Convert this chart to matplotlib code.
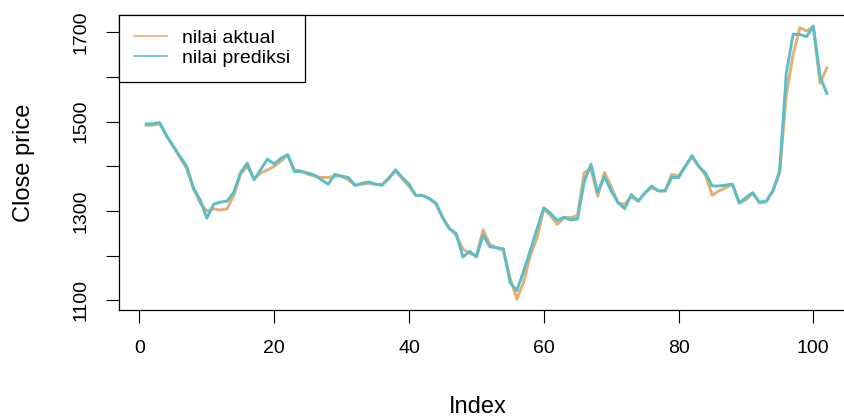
import matplotlib
matplotlib.use("Agg")
import matplotlib.pyplot as plt

plt.rcParams['font.family'] = ['Liberation Sans', 'DejaVu Sans']
fs_tick, fs_lab, fs_leg = 14, 17, 14

index = list(range(1, 103))
aktual = [1492, 1492, 1495, 1470, 1445, 1420, 1395, 1350, 1318, 1300,
          1305, 1302, 1305, 1335, 1382, 1400, 1372, 1385, 1392, 1400,
          1412, 1425, 1392, 1390, 1382, 1378, 1375, 1375, 1378, 1378,
          1370, 1358, 1360, 1362, 1360, 1358, 1375, 1390, 1372, 1355,
          1335, 1335, 1328, 1315, 1285, 1262, 1245, 1215, 1205, 1200,
          1258, 1225, 1218, 1212, 1150, 1103, 1140, 1200, 1240, 1305,
          1290, 1270, 1285, 1285, 1290, 1386, 1395, 1333, 1386, 1355,
          1318, 1315, 1332, 1322, 1340, 1352, 1345, 1345, 1382, 1378,
          1400, 1420, 1400, 1380, 1335, 1345, 1352, 1360, 1318, 1325,
          1340, 1318, 1320, 1345, 1385, 1560, 1650, 1710, 1703, 1712,
          1586, 1620]
prediksi = [1495, 1495, 1498, 1468, 1445, 1422, 1400, 1352, 1325, 1284,
            1315, 1320, 1322, 1342, 1386, 1407, 1370, 1393, 1416, 1405,
            1418, 1426, 1388, 1388, 1385, 1380, 1370, 1360, 1382, 1378,
            1375, 1357, 1362, 1365, 1360, 1358, 1372, 1392, 1375, 1360,
            1335, 1335, 1328, 1318, 1285, 1260, 1250, 1197, 1210, 1197,
            1246, 1220, 1218, 1215, 1140, 1122, 1165, 1212, 1260, 1307,
            1295, 1279, 1286, 1280, 1282, 1365, 1405, 1341, 1377, 1345,
            1320, 1305, 1337, 1322, 1340, 1356, 1345, 1345, 1375, 1375,
            1400, 1424, 1400, 1385, 1356, 1356, 1358, 1360, 1318, 1330,
            1341, 1320, 1322, 1345, 1390, 1609, 1695, 1695, 1690, 1714,
            1601, 1563]
labels = ["nilai aktual", "nilai prediksi"]
xticks = [0, 20, 40, 60, 80, 100]
yticks = [1100, 1300, 1500, 1700]
yminor = [1200, 1400, 1600]

col_akt = "#E5AE74"
col_pred = "#5ABEC9"

W, H = 844, 418
fig = plt.figure(figsize=(W / 100, H / 100), dpi=100)
L, R, T, B = 119, 854, 15, 310
ax = fig.add_axes([L / W, 1 - B / H, (R - L) / W, (B - T) / H])

ax.plot(index, aktual, color=col_akt, lw=2.1, label=labels[0])
ax.plot(index, prediksi, color=col_pred, lw=2.1, label=labels[1])

rx = (max(index) - min(index)) * 0.04
allv = aktual + prediksi
ry = (max(allv) - min(allv)) * 0.04
ax.set_xlim(min(index) - rx, max(index) + rx)
ax.set_ylim(min(allv) - ry, max(allv) + ry)

ax.set_xticks(xticks)
ax.set_yticks(yticks)
ax.set_yticks(yminor, minor=True)
ax.tick_params(axis='both', which='both', direction='out', length=9.4, width=0.8,
               colors='black', labelsize=fs_tick)
ax.tick_params(axis='y', which='major', pad=12)
ax.tick_params(axis='x', which='major', pad=12)
for lab in ax.get_yticklabels():
    lab.set_rotation(90)
    lab.set_va('center')
for s in ax.spines.values():
    s.set_linewidth(0.9)
    s.set_color('black')

ax.set_xlabel("Index", fontsize=fs_lab, va='center')
ax.set_ylabel("Close price", fontsize=fs_lab, va='center')
ax.xaxis.set_label_coords((478 - L) / (R - L), -(407 - B) / (B - T))
ax.yaxis.set_label_coords(-(L - 24) / (R - L), 0.5)

leg = ax.legend(loc='upper left', bbox_to_anchor=(0, 1), borderaxespad=0,
                fontsize=fs_leg, frameon=True, fancybox=False, framealpha=1,
                edgecolor='black', handlelength=1.7, handletextpad=0.8,
                borderpad=0.75, labelspacing=0.12)
leg.get_frame().set_linewidth(0.9)
for h in leg.get_lines():
    h.set_linewidth(1.2)

fig.savefig("out.png", dpi=100)
